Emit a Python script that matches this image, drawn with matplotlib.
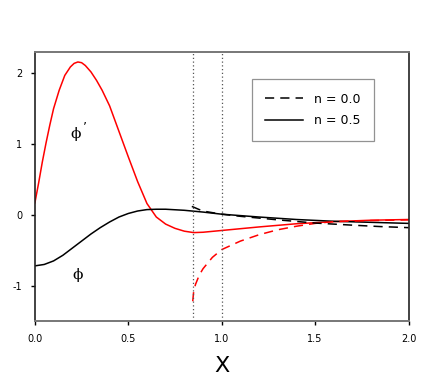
import matplotlib
matplotlib.use("Agg")
import matplotlib.pyplot as plt

plt.rcParams["axes.unicode_minus"] = False

# phi' (n = 0.5), red solid
x_dphi = [0.0, 0.02, 0.04, 0.06, 0.08, 0.1, 0.13, 0.16, 0.19, 0.21, 0.23, 0.25, 0.27,
          0.3, 0.33, 0.36, 0.4, 0.45, 0.5, 0.55, 0.6, 0.65, 0.7, 0.75, 0.8, 0.85,
          0.9, 1.0, 1.2, 1.4, 1.6, 1.8, 2.0]
y_dphi = [0.17, 0.45, 0.75, 1.02, 1.27, 1.5, 1.76, 1.97, 2.09, 2.14, 2.16, 2.15, 2.11,
          2.02, 1.9, 1.76, 1.54, 1.18, 0.82, 0.47, 0.16, -0.03, -0.13, -0.19, -0.23,
          -0.25, -0.245, -0.22, -0.17, -0.125, -0.095, -0.075, -0.065]

# phi (n = 0.5), black solid
x_phi = [0.0, 0.05, 0.1, 0.15, 0.2, 0.25, 0.3, 0.35, 0.4, 0.45, 0.5, 0.55, 0.6,
         0.65, 0.7, 0.8, 0.9, 1.0, 1.2, 1.4, 1.6, 1.8, 2.0]
y_phi = [-0.72, -0.70, -0.65, -0.57, -0.47, -0.37, -0.27, -0.18, -0.10, -0.03, 0.02,
         0.055, 0.075, 0.08, 0.08, 0.065, 0.04, 0.01, -0.03, -0.065, -0.09, -0.105, -0.12]

# phi' (n = 0.0), red dashed
x_dphi0 = [0.845, 0.85, 0.86, 0.88, 0.9, 0.95, 1.0, 1.1, 1.2, 1.3, 1.4, 1.5, 1.6, 1.8, 2.0]
y_dphi0 = [-1.22, -1.08, -0.98, -0.85, -0.76, -0.60, -0.49, -0.37, -0.28, -0.21, -0.16,
           -0.12, -0.095, -0.08, -0.07]

# phi (n = 0.0), black dashed
x_phi0 = [0.84, 0.88, 0.92, 1.0, 1.1, 1.3, 1.5, 1.7, 1.85, 2.0]
y_phi0 = [0.12, 0.075, 0.045, 0.01, -0.02, -0.07, -0.115, -0.145, -0.165, -0.18]

vlines = [0.845, 1.0]

fig = plt.figure(figsize=(4.36, 3.80), dpi=100)
ax = fig.add_axes([0.080, 0.155, 0.857, 0.708])

ax.plot(x_dphi, y_dphi, color="red", lw=1.1)
ax.plot(x_phi, y_phi, color="black", lw=1.1, label="n = 0.5")
ax.plot(x_dphi0, y_dphi0, color="red", lw=1.1, ls=(0, (6, 4)))
ax.plot(x_phi0, y_phi0, color="black", lw=1.1, ls=(0, (6, 4)), label="n = 0.0")

for v in vlines:
    ax.axvline(v, color="#555555", lw=0.9, ls=(0, (1, 2)))

ax.text(0.19, 1.08, "ϕ", fontsize=11, family="DejaVu Serif")
ax.text(0.255, 1.2, "’", fontsize=9)
ax.text(0.2, -0.9, "ϕ", fontsize=11, family="DejaVu Serif")

ax.set_xlim(0, 2.0)
ax.set_ylim(-1.5, 2.3)
ax.set_xticks([0.0, 0.5, 1.0, 1.5, 2.0])
ax.set_xticklabels(["0.0", "0.5", "1.0", "1.5", "2.0"])
ax.set_yticks([-1, 0, 1, 2])
ax.tick_params(direction="out", length=3, width=1, labelsize=7, pad=6)
ax.set_xlabel("X", fontsize=16, labelpad=9)

for s in ["top", "bottom"]:
    ax.spines[s].set_color("#777777")
    ax.spines[s].set_linewidth(1.4)
for s in ["left", "right"]:
    ax.spines[s].set_color("#222222")
    ax.spines[s].set_linewidth(1.2)

h, l = ax.get_legend_handles_labels()
leg = ax.legend(h[::-1], l[::-1], loc="upper left", bbox_to_anchor=(0.58, 0.9),
                fontsize=9, frameon=True, fancybox=False, handlelength=3,
                handletextpad=0.9, borderpad=1.1, labelspacing=0.7,
                borderaxespad=0)
leg.get_frame().set_edgecolor("#777777")
leg.get_frame().set_linewidth(0.9)

fig.savefig("out.png", dpi=100)
